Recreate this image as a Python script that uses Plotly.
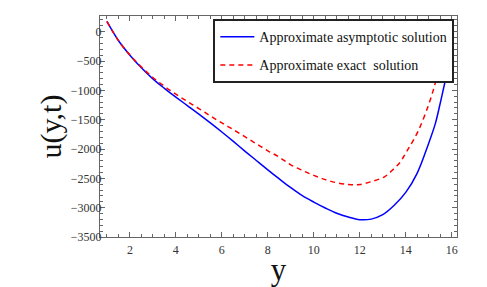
import plotly.graph_objects as go

# Approximate asymptotic solution (blue, solid)
y_asym = [1.0, 1.5, 2.0, 2.5, 3.0, 3.5, 4.0, 4.5, 5.0, 5.5, 6.0, 6.5, 7.0, 7.5, 8.0,
          8.5, 9.0, 9.5, 10.0, 10.5, 11.0, 11.5, 12.0, 12.5, 13.0, 13.5, 14.0, 14.5,
          15.0, 15.29, 15.5, 15.73, 15.91]
u_asym = [175, -150, -400, -615, -805, -965, -1115, -1260, -1405, -1555, -1710, -1870,
          -2035, -2195, -2355, -2510, -2660, -2795, -2905, -3005, -3095, -3160, -3205,
          -3195, -3120, -2960, -2740, -2410, -1900, -1563, -1220, -824, -568]

# Approximate exact solution (red, dashed)
y_exact = [1.0, 1.5, 2.0, 2.5, 3.0, 3.5, 4.0, 4.5, 5.0, 5.5, 6.0, 6.5, 7.0, 7.5, 8.0,
           8.5, 9.0, 9.5, 10.0, 10.5, 11.0, 11.5, 11.8, 12.0, 12.46, 13.07, 13.5, 13.77,
           14.0, 14.2, 14.56, 15.0, 15.29, 15.5, 15.75, 15.95]
u_exact = [175, -150, -395, -600, -780, -930, -1065, -1190, -1310, -1435, -1555, -1670,
           -1790, -1910, -2030, -2140, -2270, -2365, -2450, -2522, -2575, -2603, -2610,
           -2605, -2560, -2474, -2330, -2218, -2070, -1940, -1677, -1240, -870, -560,
           -200, 100]

x_ticks = [2, 4, 6, 8, 10, 12, 14, 16]
y_ticks = [0, -500, -1000, -1500, -2000, -2500, -3000, -3500]

serif = "Liberation Serif, Times New Roman, serif"

fig = go.Figure()
fig.add_trace(go.Scatter(x=y_asym, y=u_asym, mode="lines", name="Approximate asymptotic solution",
                         legendgroup="a", line=dict(color="#0000ff", width=1.5, shape="spline")))
fig.add_trace(go.Scatter(x=y_exact, y=u_exact, mode="lines", name="Approximate exact  solution",
                         legendgroup="b", line=dict(color="#ff0000", width=1.5, dash="5px,4px",
                                                    shape="spline")))

axis_common = dict(showgrid=False, zeroline=False, showline=True, linecolor="#666", linewidth=1,
                   mirror="ticks", ticks="inside", ticklen=5, tickcolor="#666",
                   tickfont=dict(family=serif, size=12, color="#333"))

# page body has an 8px default margin, so the figure is sized/offset to compensate
fig.update_layout(
    width=479, height=279,
    margin=dict(l=92, r=30, t=8, b=50),
    paper_bgcolor="white", plot_bgcolor="white",
    xaxis=dict(range=[0.7, 16.23], tickvals=x_ticks, ticktext=[str(v) for v in x_ticks],
               minor=dict(ticks="inside", dtick=0.5, tick0=0, ticklen=3, tickcolor="#666"),
               ticklabelstandoff=2, automargin=False,
               title=dict(text="y", font=dict(family=serif, size=31, color="#111"), standoff=0),
               **axis_common),
    yaxis=dict(range=[-3500, 268], tickvals=y_ticks,
               ticktext=["0" if v == 0 else "\u2212" + str(-v) for v in y_ticks],
               minor=dict(ticks="inside", dtick=100, tick0=0, ticklen=3, tickcolor="#666"),
               ticklabelstandoff=-5, automargin=True,
               title=dict(text="u(y,t)", font=dict(family=serif, size=30, color="#111"), standoff=0),
               **axis_common),
    legend=dict(x=0.9925, y=0.986, xanchor="right", yanchor="top",
                bordercolor="#222", borderwidth=2, bgcolor="white", itemwidth=34,
                font=dict(family=serif, size=14, color="#111"),
                tracegroupgap=7),
    showlegend=True,
)

fig.write_html("out.html")
